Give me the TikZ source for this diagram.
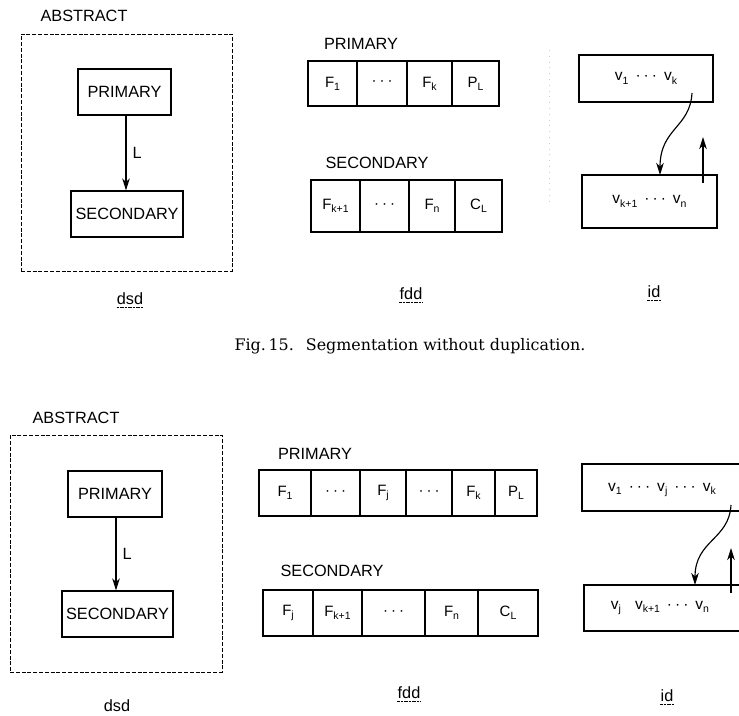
\documentclass[tikz,border=0pt]{standalone}
\usepackage{fontspec}
\setsansfont{Liberation Sans}
\newfontfamily\captfont{DejaVu Serif}
\usetikzlibrary{arrows.meta}
% small lowered index
\newcommand\lo[1]{\raisebox{-0.4ex}{\fontsize{10.5}{10.5}\selectfont #1}}
% centred ellipsis dots
\newcommand\hdts{·\hspace{3pt}·\hspace{3pt}·}
\tikzset{
  every node/.style={font=\sffamily\fontsize{16.3}{19}\selectfont},
  box/.style={draw, line width=1.15pt, inner sep=0pt},
  cell/.style={box, font=\sffamily\fontsize{15}{17}\selectfont},
  idtext/.style={font=\sffamily\fontsize{15.5}{17}\selectfont, inner sep=0pt},
  frame/.style={draw, dash pattern=on 4pt off 1.8pt, line width=0.8pt, inner sep=0pt},
  link/.style={line width=1.15pt, -{Stealth[length=12pt, width=7.5pt, inset=3.5pt]}},
  uline/.style={line width=1.1pt, dash pattern=on 1.2pt off 0.4pt},
  capt/.style={font=\captfont\fontsize{15.9}{18}\selectfont},
}
\begin{document}
\begin{tikzpicture}[x=1pt, y=-1pt]
\useasboundingbox (0,0) rectangle (739,715);

% ---------------- Fig. 15 ----------------
% data structure diagram
\node (abs1) at (84,16) {ABSTRACT};
\node[frame, minimum width=211, minimum height=237] (fr1) at (126.5,152.5) {};
\node[box, minimum width=93, minimum height=46] (p1) at (124.5,92) {PRIMARY};
\node[box, minimum width=112, minimum height=46] (s1) at (127,214) {SECONDARY};
\draw[link] ([xshift=1.5pt]p1.south) -- ([xshift=1.5pt]p1.south |- s1.north)
  node[midway, right, inner sep=6pt] (L1) {L};
\node[inner sep=0pt] (dsd1) at (130,299) {dsd};
\draw[uline] ([yshift=-2.5pt]dsd1.base west) -- ([yshift=-2.5pt]dsd1.base east);

% file definition diagram
\node (fp1) at (361,44) {PRIMARY};
\node[cell, minimum width=49, minimum height=45] (a1) at (332.5,83.5) {F\lo{1}};
\node[cell, minimum width=50, minimum height=45] (a2) at (382,83.5) {\hdts};
\node[cell, minimum width=45, minimum height=45] (a3) at (429.5,83.5) {F\lo{k}};
\node[cell, minimum width=47, minimum height=45] (a4) at (475.5,83.5) {P\lo{L}};
\node (fs1) at (377,163) {SECONDARY};
\node[cell, minimum width=49, minimum height=52] (b1) at (335.5,206) {F\lo{k+1}};
\node[cell, minimum width=49, minimum height=52] (b2) at (384.5,206) {\hdts};
\node[cell, minimum width=46, minimum height=52] (b3) at (432,206) {F\lo{n}};
\node[cell, minimum width=47, minimum height=52] (b4) at (478.5,206) {C\lo{L}};
\node[inner sep=0pt] (fdd1) at (411,294) {fdd};
\draw[uline] ([yshift=-2.5pt]fdd1.base west) -- ([yshift=-2.5pt]fdd1.base east);

% faint separator dots
\draw[gray!40, line width=0.6pt, dash pattern=on 0.8pt off 5pt] (549,50) -- (549,205);

% internal diagram
\node[box, idtext, minimum width=134, minimum height=47] (ia1) at (646,78.5)
  {v\lo{1}\hspace{7pt}\hdts\hspace{7pt}v\lo{k}};
\node[box, idtext, minimum width=135, minimum height=53] (ib1) at (649.5,201.5)
  {v\lo{k+1}\hspace{7pt}\hdts\hspace{7pt}v\lo{n}};
\coordinate (ca1) at (692,93);
\coordinate (ce1) at (660,175);
\draw[link] (ca1) .. controls (690,128) and (660,128) .. (ce1);
\coordinate (ua1) at (703,183);
\coordinate (ub1) at (703,137);
\draw[link] (ua1) -- (ub1);
\node[inner sep=0pt] (id1) at (654,292) {id};
\draw[uline] ([yshift=-2.5pt]id1.base west) -- ([yshift=-2.5pt]id1.base east);

\node[capt] (cap15) at (410,346) {Fig.\,15.\hspace{12pt}Segmentation without duplication.};

% ---------------- second figure ----------------
\node (abs2) at (76,418) {ABSTRACT};
\node[frame, minimum width=212, minimum height=237] (fr2) at (116,553.5) {};
\node[box, minimum width=94, minimum height=46] (p2) at (115,494) {PRIMARY};
\node[box, minimum width=111, minimum height=46] (s2) at (117.5,614) {SECONDARY};
\draw[link] ([xshift=1pt]p2.south) -- ([xshift=1pt]p2.south |- s2.north)
  node[midway, right, inner sep=6pt] (L2) {L};
\node[inner sep=0pt] (dsd2) at (117,706) {dsd};

\node (fp2) at (315,454) {PRIMARY};
\node[cell, minimum width=52, minimum height=46] (c1) at (285,493) {F\lo{1}};
\node[cell, minimum width=49, minimum height=46] (c2) at (335.5,493) {\hdts};
\node[cell, minimum width=46, minimum height=46] (c3) at (383,493) {F\lo{j}};
\node[cell, minimum width=46, minimum height=46] (c4) at (429,493) {\hdts};
\node[cell, minimum width=43, minimum height=46] (c5) at (473.5,493) {F\lo{k}};
\node[cell, minimum width=42, minimum height=46] (c6) at (516,493) {P\lo{L}};
\node (fs2) at (332,571) {SECONDARY};
\node[cell, minimum width=50, minimum height=46] (d1) at (288,613) {F\lo{j}};
\node[cell, minimum width=49, minimum height=46] (d2) at (337.5,613) {F\lo{k+1}};
\node[cell, minimum width=63, minimum height=46] (d3) at (393.5,613) {\hdts};
\node[cell, minimum width=53, minimum height=46] (d4) at (451.5,613) {F\lo{n}};
\node[cell, minimum width=60, minimum height=46] (d5) at (508,613) {C\lo{L}};
\node[inner sep=0pt] (fdd2) at (409,693) {fdd};
\draw[uline] ([yshift=-2.5pt]fdd2.base west) -- ([yshift=-2.5pt]fdd2.base east);

% internal diagram, running past the right edge
\node[box, minimum width=178, minimum height=47] (ia2) at (671,487.5) {};
\node[idtext] (ta2) at (662,490) {v\lo{1}\hspace{7pt}\hdts\hspace{7pt}v\lo{j}\hspace{7pt}\hdts\hspace{7pt}v\lo{k}};
\node[box, minimum width=176, minimum height=46] (ib2) at (672,608) {};
\node[idtext] (tb2) at (660,608) {v\lo{j}\hspace{14pt}v\lo{k+1}\hspace{7pt}\hdts\hspace{7pt}v\lo{n}};
\coordinate (ca2) at (731,505);
\coordinate (ce2) at (695,585);
\draw[link] (ca2) .. controls (729,540) and (695,540) .. (ce2);
\coordinate (ua2) at (731,593);
\coordinate (ub2) at (731,548);
\draw[link] (ua2) -- (ub2);
\node[inner sep=0pt] (id2) at (667,696) {id};
\draw[uline] ([yshift=-2.5pt]id2.base west) -- ([yshift=-2.5pt]id2.base east);
\end{tikzpicture}
\end{document}
